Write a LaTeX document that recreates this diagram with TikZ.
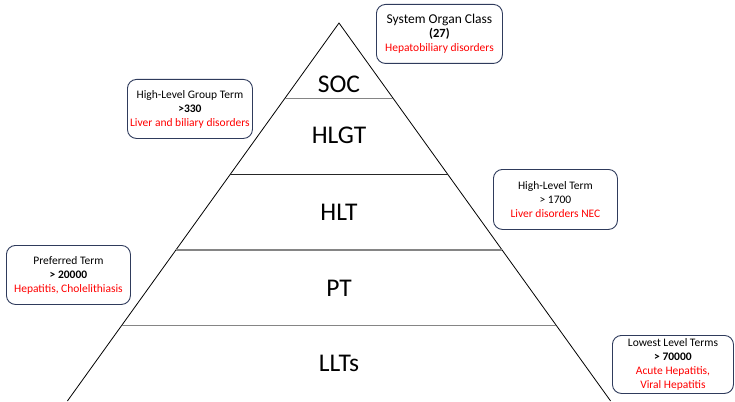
\documentclass[tikz,border=0pt]{standalone}
\usepackage{fontspec}
\setmainfont{Carlito}
\usetikzlibrary{calc}
\definecolor{boxline}{HTML}{2F3B5C}
\definecolor{sepgray}{HTML}{858585}
\tikzset{
  infobox/.style={draw=boxline, line width=0.9pt, rounded corners=9pt, fill=white,
    align=center, font=\fontsize{11.5}{14}\selectfont, inner sep=0pt, anchor=north west},
  level/.style={font=\fontsize{25.5}{28}\selectfont, inner sep=0pt},
  side/.style={draw=black, line width=0.8pt},
  sepg/.style={draw=sepgray, line width=1.6pt},
  sepk/.style={draw=black!85, line width=1.1pt},
}
\newcommand{\rd}[1]{\textcolor{red}{#1}}
\begin{document}
\begin{tikzpicture}[x=1pt,y=-1pt]
\useasboundingbox (0,0) rectangle (735,401);
\coordinate (apex) at (339,23);
\coordinate (bl) at (67.4,401);
\coordinate (br) at (610.6,401);
\draw[side] (bl) -- (apex) -- (br);
\draw[sepg] ($(apex)!0.2!(bl)$) -- ($(apex)!0.2!(br)$);
\draw[sepk] ($(apex)!0.4!(bl)$) -- ($(apex)!0.4!(br)$);
\draw[sepg] ($(apex)!0.6!(bl)$) -- ($(apex)!0.6!(br)$);
\draw[sepg] ($(apex)!0.8!(bl)$) -- ($(apex)!0.8!(br)$);

\node[level] (soc) at (339,84) {SOC};
\node[level] (hlgt) at (339,135) {HLGT};
\node[level] (hlt) at (339,212) {HLT};
\node[level] (pt) at (339,288) {PT};
\node[level] (llt) at (339,363) {LLTs};

\node[infobox, minimum width=126pt, minimum height=59pt] (bsoc) at (376,4)
  {{\fontsize{13.5}{14}\selectfont System Organ Class}\\{\fontsize{12.5}{14}\selectfont\textbf{(27)}}\\\rd{Hepatobiliary disorders}};
\node[infobox, minimum width=125pt, minimum height=59pt] (bhlgt) at (127,79)
  {High-Level Group Term\\\textbf{>330}\\\rd{Liver and biliary disorders}};
\node[infobox, minimum width=124pt, minimum height=60pt] (bhlt) at (493,169)
  {High-Level Term\\> 1700\\\rd{Liver disorders NEC}};
\node[infobox, minimum width=124pt, minimum height=59pt] (bpt) at (6,245)
  {Preferred Term\\\textbf{> 20000}\\\rd{Hepatitis, Cholelithiasis}};
\node[infobox, minimum width=121pt, minimum height=58pt] (bllt) at (612,335)
  {Lowest Level Terms\\\textbf{> 70000}\\\rd{Acute Hepatitis,}\\\rd{Viral Hepatitis}};
\end{tikzpicture}
\end{document}
